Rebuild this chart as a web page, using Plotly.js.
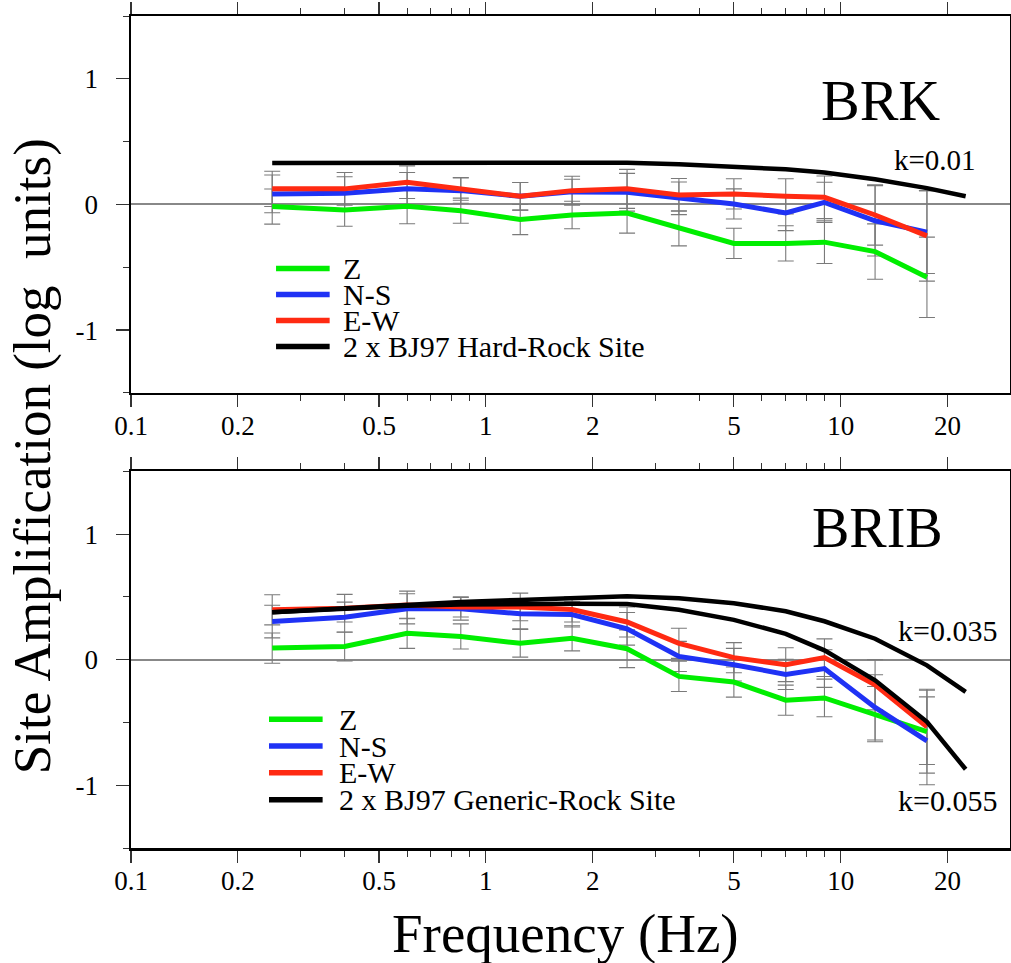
<!DOCTYPE html>
<html>
<head>
<meta charset="utf-8">
<script src="https://cdn.plot.ly/plotly-3.0.1.min.js"></script>
<style>html,body{margin:0;padding:0;background:#fff;}#chart{width:1011px;height:963px;}</style>
</head>
<body>
<div id="chart"></div>
<script>
// ---------------- data ----------------
const freq = [0.25, 0.4, 0.6, 0.85, 1.25, 1.75, 2.5, 3.5, 5, 7, 9, 12.5, 17.5];
const bjFreq = [0.25, 0.4, 0.6, 0.85, 1.25, 1.75, 2.5, 3.5, 5, 7, 9, 12.5, 17.5, 22.5];

const seriesNames = ['Z', 'N-S', 'E-W'];
const seriesColors = ['#00ee00', '#1f32f5', '#ff2a12'];

// BRK (top panel)
const brkZ    = [-0.017, -0.044, -0.014, -0.05, -0.12, -0.084, -0.068, -0.19, -0.31, -0.31, -0.30, -0.375, -0.58];
const brkNS   = [0.084, 0.09, 0.124, 0.11, 0.065, 0.10, 0.097, 0.049, 0.004, -0.068, 0.017, -0.13, -0.22];
const brkEW   = [0.124, 0.124, 0.177, 0.124, 0.065, 0.11, 0.124, 0.076, 0.084, 0.065, 0.057, -0.084, -0.25];
const brkZerr  = [0.14, 0.13, 0.14, 0.10, 0.12, 0.11, 0.16, 0.14, 0.12, 0.14, 0.17, 0.22, 0.32];
const brkNSerr = [0.15, 0.13, 0.13, 0.10, 0.11, 0.10, 0.15, 0.13, 0.12, 0.14, 0.16, 0.28, 0.33];
const brkEWerr = [0.14, 0.13, 0.13, 0.09, 0.11, 0.115, 0.155, 0.13, 0.12, 0.14, 0.17, 0.24, 0.36];
const brkBJ97  = [0.33, 0.33, 0.335, 0.335, 0.337, 0.337, 0.332, 0.32, 0.30, 0.28, 0.255, 0.20, 0.13, 0.065];

// BRIB (bottom panel)
const bribZ    = [0.092, 0.105, 0.21, 0.185, 0.13, 0.17, 0.087, -0.133, -0.178, -0.323, -0.305, -0.434, -0.574];
const bribNS   = [0.304, 0.338, 0.405, 0.405, 0.365, 0.36, 0.246, 0.026, -0.04, -0.117, -0.071, -0.38, -0.646];
const bribEW   = [0.397, 0.41, 0.436, 0.42, 0.42, 0.40, 0.30, 0.13, 0.016, -0.04, 0.016, -0.20, -0.535];
const bribZerr  = [0.12, 0.115, 0.12, 0.10, 0.11, 0.10, 0.15, 0.12, 0.12, 0.12, 0.15, 0.22, 0.33];
const bribNSerr = [0.13, 0.12, 0.12, 0.09, 0.12, 0.10, 0.13, 0.12, 0.13, 0.12, 0.15, 0.26, 0.35];
const bribEWerr = [0.12, 0.11, 0.11, 0.08, 0.11, 0.10, 0.12, 0.12, 0.12, 0.135, 0.15, 0.20, 0.30];
const bribBJ97k035 = [0.378, 0.41, 0.436, 0.46, 0.476, 0.49, 0.505, 0.49, 0.45, 0.386, 0.306, 0.167, -0.045, -0.257];
const bribBJ97k055 = [0.378, 0.41, 0.43, 0.44, 0.445, 0.445, 0.444, 0.397, 0.317, 0.206, 0.074, -0.164, -0.495, -0.873];

const bjLabelBRK  = '2 x BJ97 Hard-Rock Site';
const bjLabelBRIB = '2 x BJ97 Generic-Rock Site';
const panelTitles = ['BRK', 'BRIB'];
const kappaLabels = ['k=0.01', 'k=0.035', 'k=0.055'];

const xTickVals = [0.1, 0.2, 0.5, 1, 2, 5, 10, 20];
const xTickText = ['0.1', '0.2', '0.5', '1', '2', '5', '10', '20'];
const xMinorVals = [0.3, 0.4, 0.6, 0.7, 0.8, 0.9, 3, 4, 6, 7, 8, 9];
const yTickVals = [-1, 0, 1];
const yTickText = ['-1', '0', '1'];
const yMinorVals = [-1.5, -0.5, 0.5, 1.5];

const xTitle = 'Frequency (Hz)';
const yTitle = 'Site Amplification (log  units)';

// ---------------- build ----------------
const FONT = 'Liberation Serif, Times New Roman, serif';
const traces = [];
const panels = [
  {xa: 'x', ya: 'y', vals: [brkZ, brkNS, brkEW], errs: [brkZerr, brkNSerr, brkEWerr], bj: [brkBJ97], bjLabel: bjLabelBRK},
  {xa: 'x2', ya: 'y2', vals: [bribZ, bribNS, bribEW], errs: [bribZerr, bribNSerr, bribEWerr], bj: [bribBJ97k035, bribBJ97k055], bjLabel: bjLabelBRIB}
];

panels.forEach(p => {
  p.vals.forEach((v, i) => {
    traces.push({
      type: 'scatter', mode: 'markers', x: freq, y: v, xaxis: p.xa, yaxis: p.ya,
      marker: {size: 1, color: 'rgba(0,0,0,0)'},
      error_y: {type: 'data', array: p.errs[i], visible: true, color: '#7a7a7a', thickness: 1.1, width: 8},
      showlegend: false, hoverinfo: 'skip'
    });
  });
  p.vals.forEach((v, i) => {
    traces.push({
      type: 'scatter', mode: 'lines', x: freq, y: v, xaxis: p.xa, yaxis: p.ya,
      line: {color: seriesColors[i], width: 5}, name: seriesNames[i], showlegend: false
    });
  });
  p.bj.forEach(b => {
    traces.push({
      type: 'scatter', mode: 'lines', x: bjFreq, y: b, xaxis: p.xa, yaxis: p.ya,
      line: {color: '#000', width: 4.5}, name: p.bjLabel, showlegend: false
    });
  });
});

const xBase = {
  type: 'log', range: [-1, Math.log10(30)], showgrid: false, zeroline: false,
  showline: true, linecolor: '#000', linewidth: 2.5, mirror: 'ticks',
  ticks: 'outside', ticklen: 12, tickwidth: 1.2, tickcolor: '#333',
  tickmode: 'array', tickvals: xTickVals, ticktext: xTickText, ticklabelstandoff: -5,
  tickfont: {family: FONT, size: 27, color: '#000'},
  minor: {tickmode: 'array', tickvals: xMinorVals, ticks: 'outside', ticklen: 6, tickwidth: 1, tickcolor: '#333', showgrid: false}
};
const yBase = {
  range: [-1.5, 1.5], showgrid: false, zeroline: true, zerolinecolor: '#888', zerolinewidth: 2,
  showline: true, linecolor: '#000', linewidth: 2.5, mirror: 'ticks',
  ticks: 'outside', ticklen: 13, tickwidth: 1.2, tickcolor: '#333',
  tickmode: 'array', tickvals: yTickVals, ticktext: yTickText, ticklabelstandoff: 12,
  tickfont: {family: FONT, size: 27, color: '#000'},
  minor: {tickmode: 'array', tickvals: yMinorVals, ticks: 'outside', ticklen: 6, tickwidth: 1, tickcolor: '#333', showgrid: false}
};

const topDom = [0.547, 1];
const botDom = [0, 0.4527];

const annotations = [];
const shapes = [];

function legend(xr, yr, names, colors, y0, step, lx0, lx1, tx) {
  names.forEach((n, i) => {
    const yy = y0 - i * step;
    shapes.push({type: 'line', xref: xr + ' domain', yref: yr + ' domain', x0: lx0, x1: lx1, y0: yy, y1: yy,
      line: {color: colors[i], width: 5.5}});
    annotations.push({xref: xr + ' domain', yref: yr + ' domain', x: tx, y: yy, xanchor: 'left', yanchor: 'middle',
      height: 25, valign: 'middle', borderpad: 0,
      text: n, showarrow: false, font: {family: FONT, size: 30, color: '#000'}});
  });
}
legend('x', 'y', [...seriesNames, bjLabelBRK], [...seriesColors, '#000'], 0.330, 0.069, 0.165, 0.226, 0.240);
legend('x2', 'y2', [...seriesNames, bjLabelBRIB], [...seriesColors, '#000'], 0.3417, 0.0711, 0.157, 0.218, 0.236);

function label(xr, yr, x, y, text, size) {
  annotations.push({xref: xr, yref: yr, x: x, y: y, xanchor: 'center', yanchor: 'middle', text: text,
    showarrow: false, font: {family: FONT, size: size, color: '#000'}});
}
label('x domain', 'y domain', 0.853, 0.776, panelTitles[0], 58);
label('x2 domain', 'y2 domain', 0.849, 0.849, panelTitles[1], 56);
label('x domain', 'y domain', 0.915, 0.617, kappaLabels[0], 29);
label('x2 domain', 'y2 domain', 0.929, 0.578, kappaLabels[1], 30);
label('x2 domain', 'y2 domain', 0.929, 0.127, kappaLabels[2], 30);
label('paper', 'paper', 0.494, -0.1025, xTitle, 55);
annotations.push({xref: 'paper', yref: 'paper', x: -0.1126, y: 0.471, xanchor: 'center', yanchor: 'middle', text: yTitle,
  textangle: -90, showarrow: false, font: {family: FONT, size: 53, color: '#000'}});

const layout = {
  width: 1011, height: 963,
  margin: {l: 131, r: 1, t: 15.5, b: 115.3},
  paper_bgcolor: '#fff', plot_bgcolor: '#fff',
  showlegend: false,
  xaxis: Object.assign({}, xBase, {anchor: 'y'}),
  yaxis: Object.assign({}, yBase, {domain: topDom, anchor: 'x'}),
  xaxis2: Object.assign({}, xBase, {anchor: 'y2'}),
  yaxis2: Object.assign({}, yBase, {domain: botDom, anchor: 'x2'}),
  annotations: annotations,
  shapes: shapes
};

Plotly.newPlot('chart', traces, layout, {displayModeBar: false, staticPlot: true});
</script>
</body>
</html>
